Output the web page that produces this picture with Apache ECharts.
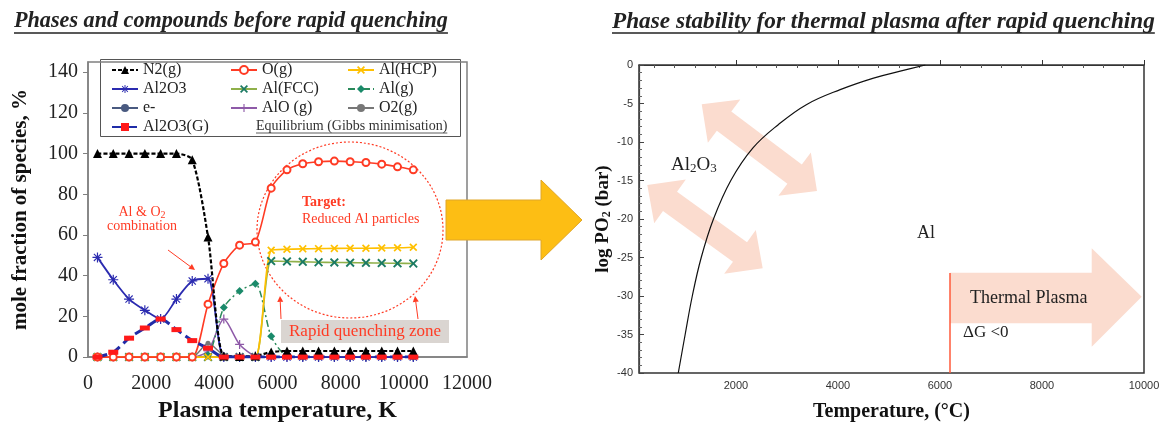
<!DOCTYPE html>
<html><head><meta charset="utf-8">
<script src="https://cdn.jsdelivr.net/npm/echarts@6/dist/echarts.min.js"></script>
<style>html,body{margin:0;padding:0;background:#fff}#c{width:1167px;height:428px}</style>
</head><body><div id="c"></div>
<script>
// ---------- DATA (left chart: equilibrium composition) ----------
const temps   = [300,800,1300,1800,2300,2800,3300,3800,4300,4800,5300,5800,6300,6800,7300,7800,8300,8800,9300,9800,10300];
const n2g     = [100,100,100,100,100,100,97,59,0.5,0.3,0.5,2.5,3,3,3,3,3,3,3,3,3];
const og      = [0,0,0,0,0,0,0,26,46,55,56.5,83,92,95,96,96.3,96,95.6,94.8,93.5,92];
const alHCP   = [0,0,0,0,0,0,0,0,0,0,0,52.5,53,53.2,53.3,53.4,53.5,53.5,53.6,53.7,54];
const al2o3   = [49,38,28.5,23,18.7,28.5,37.4,38.5,0,0,0,0,0,0,0,0,0,0,0,0,0];
const alFCC   = [0,0,0,0,0,0,0,0,0,0,0,47.2,47,46.8,46.6,46.5,46.4,46.3,46.2,46.1,46];
const alg     = [0,0,0,0,0,0,0,1,24.4,32.5,36,10.2,0.5,0,0,0,0,0,0,0,0];
const elec    = [0,0,0,0,0,0,0,0,0,0,0,0,0,0,0,0,0,0,0,0,0];
const alog    = [0,0,0,0,0,0,0,3,18.7,6.2,0.5,0,0,0,0,0,0,0,0,0,0];
const o2g     = [0,0,0,0,0,0,0,6.8,1,0.2,0,0,0,0,0,0,0,0,0,0,0];
const al2o3G  = [0,2.4,9.3,14.3,18.7,13.5,8.1,4.4,0,0,0,0,0,0,0,0,0,0,0,0,0];
const leftYTicks = [0,20,40,60,80,100,120,140];
const leftXTicks = [0,2000,4000,6000,8000,10000,12000];

// ---------- DATA (right chart: phase stability) ----------
const curveT      = [870,1005,1145,1320,1560,1900,2330,2830,3380,4044,4698,5222,5712];
const curveLogPO2 = [-40,-35,-30,-25,-20,-15,-10.8,-7.75,-5.15,-3.2,-1.7,-0.8,0];
const rightXTicks = [2000,4000,6000,8000,10000];
const rightXMinor = [400,800,1200,1600,2400,2800,3200,3600,4400,4800,5200,5600,6400,6800,7200,7600,8400,8800,9200,9600];
const plasmaT = 6200;

const SERIF = '"Liberation Serif", "Times New Roman", serif';
const SANS = '"Liberation Sans", Arial, sans-serif';
const RED = '#ff3b24';

const pair = arr => temps.map((t,i)=>[t, arr[i]]);
const SYM_X = 'path://M0,1.5L1.5,0L5,3.5L8.5,0L10,1.5L6.5,5L10,8.5L8.5,10L5,6.5L1.5,10L0,8.5L3.5,5Z';
const SYM_PLUS = 'path://M4.3,0h1.4v4.3h4.3v1.4h-4.3v4.3h-1.4v-4.3h-4.3v-1.4h4.3z';
const SYM_AST = 'path://M4.4,0h1.2v3.6l2.6,-2.6l0.8,0.8l-2.6,2.6h3.6v1.2h-3.6l2.6,2.6l-0.8,0.8l-2.6,-2.6v3.6h-1.2v-3.6l-2.6,2.6l-0.8,-0.8l2.6,-2.6h-3.6v-1.2h3.6l-2.6,-2.6l0.8,-0.8l2.6,2.6z';

function ls(name, data, o){
  return Object.assign({
    name, type:'line', xAxisIndex:0, yAxisIndex:0, data: pair(data),
    smooth:0.25, showSymbol:true, animation:false,
    emphasis:{disabled:true}
  }, o);
}

const series = [
  ls('e-', elec, {symbol:'circle', symbolSize:5, lineStyle:{color:'#4a5a80',width:1.5}, itemStyle:{color:'#4a5a80'}}),
  ls('O2(g)', o2g, {symbol:'circle', symbolSize:5, lineStyle:{color:'#777',width:1.5}, itemStyle:{color:'#777'}}),
  ls('AlO (g)', alog, {symbol:SYM_PLUS, symbolSize:9, lineStyle:{color:'#8e5aa8',width:1.5}, itemStyle:{color:'#8e5aa8'}}),
  ls('Al(g)', alg, {symbol:'diamond', symbolSize:8, lineStyle:{color:'#2a8a5a',width:1.5,type:[7,3,2,3]}, itemStyle:{color:'#1a8a6a'}}),
  ls('Al(FCC)', alFCC, {symbol:SYM_X, symbolSize:9, lineStyle:{color:'#8fb04a',width:1.6}, itemStyle:{color:'#1b7a62'}}),
  ls('Al(HCP)', alHCP, {symbol:SYM_X, symbolSize:8, lineStyle:{color:'#ffc000',width:1.6}, itemStyle:{color:'#ffc000'}}),
  ls('Al2O3', al2o3, {symbol:SYM_AST, symbolSize:10, lineStyle:{color:'#2b2bb0',width:1.8}, itemStyle:{color:'#2b2bb0'}}),
  ls('O(g)', og, {symbol:'emptyCircle', symbolSize:7, lineStyle:{color:RED,width:1.6}, itemStyle:{color:RED, borderWidth:1.2}}),
  ls('N2(g)', n2g, {symbol:'triangle', symbolSize:9, lineStyle:{color:'#000',width:2.2,type:[4,2]}, itemStyle:{color:'#000'}}),
  ls('Al2O3(G)', al2o3G, {symbol:'rect', symbolSize:[10,5], lineStyle:{color:'#1f2ca8',width:3,type:[10,5]}, itemStyle:{color:'#ff1a1a'}}),
  {
    name:'curve', type:'line', xAxisIndex:1, yAxisIndex:1, smooth:0.4, showSymbol:false, animation:false,
    data: curveT.map((t,i)=>[t, curveLogPO2[i]]),
    lineStyle:{color:'#111', width:1.2}, emphasis:{disabled:true}, z:5,
    markLine:{silent:true, symbol:['none','none'], animation:false, label:{show:false},
      lineStyle:{color:'#ff5a3a', width:1.5, type:'solid'},
      data:[[{coord:[plasmaT,-27]},{coord:[plasmaT,-40]}]]}
  }
];

const legendCommon = {orient:'vertical', top:62, itemWidth:26, itemHeight:10, itemGap:3, padding:0,
  selectedMode:false, textStyle:{fontFamily:SERIF, fontSize:16, color:'#222'}};

// text measurement for titles / underlines
const mctx = document.createElement('canvas').getContext('2d');
function tw(t, font){ mctx.font = font; return mctx.measureText(t).width; }
const title1 = 'Phases and compounds before rapid quenching';
const title2 = 'Phase stability for thermal plasma after rapid quenching';
const fs1 = 20 * 434 / tw(title1, 'italic bold 20px "Liberation Serif"');
const fs2 = 20 * 543 / tw(title2, 'italic bold 20px "Liberation Serif"');
const TF1 = 'italic bold ' + fs1.toFixed(2) + 'px "Liberation Serif"';
const TF2 = 'italic bold ' + fs2.toFixed(2) + 'px "Liberation Serif"';
const w1 = tw(title1, TF1), w2 = tw(title2, TF2);

function dblArrow(x1,y1,x2,y2,sw,hl,hw){
  const dx=x2-x1, dy=y2-y1, L=Math.hypot(dx,dy), ux=dx/L, uy=dy/L, px=-uy, py=ux;
  const P=(t,s)=>[x1+ux*t+px*s, y1+uy*t+py*s];
  return [P(0,0),P(hl,hw),P(hl,sw),P(L-hl,sw),P(L-hl,hw),P(L,0),P(L-hl,-hw),P(L-hl,-sw),P(hl,-sw),P(hl,-hw)];
}
function arrowLine(x1,y1,x2,y2,color){
  const dx=x2-x1, dy=y2-y1, L=Math.hypot(dx,dy), ux=dx/L, uy=dy/L, px=-uy, py=ux;
  const hl=6, hw=3;
  return [
    {type:'line', shape:{x1,y1,x2:x2-ux*hl,y2:y2-uy*hl}, style:{stroke:color, lineWidth:1}},
    {type:'polygon', shape:{points:[[x2,y2],[x2-ux*hl+px*hw,y2-uy*hl+py*hw],[x2-ux*hl-px*hw,y2-uy*hl-py*hw]]}, style:{fill:color}}
  ];
}
const PINK = '#fbdccf';
const EQ = 'Equilibrium (Gibbs minimisation)';

const graphic = [
  // titles
  {type:'text', left:14, top:10, style:{text:title1, font:TF1, fill:'#222'}},
  {type:'line', shape:{x1:14,y1:33,x2:14+w1,y2:33}, style:{stroke:'#222', lineWidth:1.3}},
  {type:'text', left:612, top:10, style:{text:title2, font:TF2, fill:'#222'}},
  {type:'line', shape:{x1:612,y1:33,x2:612+w2,y2:33}, style:{stroke:'#222', lineWidth:1.3}},
  // legend box
  {type:'rect', shape:{x:100.5,y:59.5,width:360,height:77}, style:{fill:'#fff', stroke:'#555', lineWidth:1}, z:-1},
  {type:'text', left:256, top:119, style:{text:EQ, font:'14px "Liberation Serif"', fill:'#333'}},
  {type:'line', shape:{x1:256,y1:133,x2:256+tw(EQ,'14px "Liberation Serif"'),y2:133}, style:{stroke:'#333', lineWidth:0.8}},
  // left annotations
  {type:'text', x:142, y:212, style:{text:'Al & O{s|2}', rich:{s:{fontSize:10, fontFamily:SERIF, fill:RED, verticalAlign:'bottom', padding:[6,0,0,0]}}, font:'14px "Liberation Serif"', fill:RED, align:'center', verticalAlign:'middle'}},
  {type:'text', x:142, y:226, style:{text:'combination', font:'14px "Liberation Serif"', fill:RED, align:'center', verticalAlign:'middle'}},
  ...arrowLine(168,250,195,270,RED),
  {type:'ellipse', shape:{cx:350, cy:230, rx:93, ry:88}, style:{fill:'none', stroke:RED, lineWidth:1.2, lineDash:[2,2]}},
  {type:'text', x:302, y:202, style:{text:'Target:', font:'bold 14px "Liberation Serif"', fill:RED, verticalAlign:'middle'}},
  {type:'text', x:302, y:219, style:{text:'Reduced Al particles', font:'14px "Liberation Serif"', fill:RED, verticalAlign:'middle'}},
  {type:'rect', shape:{x:281,y:320,width:168,height:23}, style:{fill:'#dad5d1'}},
  {type:'text', x:289, y:332, style:{text:'Rapid quenching zone', font:'17px "Liberation Serif"', fill:RED, verticalAlign:'middle'}},
  ...arrowLine(418,319,415,296,RED),
  ...arrowLine(281,319,280,296,RED),
  // big yellow arrow
  {type:'polygon', shape:{points:[[446,200],[541,200],[541,180],[582,220],[541,260],[541,240],[446,240]]}, style:{fill:'#fdbe14', stroke:'#e0a628', lineWidth:1}, z:10},
  // right chart pink arrows
  {type:'polygon', shape:{points:dblArrow(701.7,104.3,817,191,12,28,27)}, style:{fill:PINK}},
  {type:'polygon', shape:{points:dblArrow(647.3,185,762.7,268.3,12,28,27)}, style:{fill:PINK}},
  {type:'polygon', shape:{points:[[950,272.7],[1091.7,272.7],[1091.7,248.3],[1141.7,296.7],[1091.7,346.7],[1091.7,323.3],[950,323.3]]}, style:{fill:PINK}},
  {type:'text', x:671, y:165, style:{text:'Al{s|2}O{s|3}', rich:{s:{fontSize:13, fontFamily:SERIF, fill:'#222', verticalAlign:'bottom', padding:[8,0,0,0]}}, font:'19px "Liberation Serif"', fill:'#222', verticalAlign:'middle'}, z:10},
  {type:'text', x:917, y:233, style:{text:'Al', font:'18px "Liberation Serif"', fill:'#222', verticalAlign:'middle'}, z:10},
  {type:'text', x:970, y:298, style:{text:'Thermal Plasma', font:'18px "Liberation Serif"', fill:'#222', verticalAlign:'middle'}, z:10},
  {type:'text', x:963, y:333, style:{text:'\u0394G <0', font:'17px "Liberation Serif"', fill:'#222', verticalAlign:'middle'}, z:10}
];

const plain = v => String(v);

const option = {
  backgroundColor:'#fff',
  animation:false,
  grid:[
    {left:88, right:700, top:62, bottom:66, show:true, borderColor:'#808080', borderWidth:1.5, backgroundColor:'transparent'},
    {left:639, right:23, top:65, bottom:55, show:true, borderColor:'#333', borderWidth:1.5}
  ],
  xAxis:[
    {type:'value', gridIndex:0, min:0, max:12000,
     name:'Plasma temperature, K', nameLocation:'middle', nameGap:35,
     nameTextStyle:{fontFamily:SERIF, fontWeight:'bold', fontSize:24, color:'#111'},
     axisLine:{lineStyle:{color:'#808080', width:1.5}}, axisTick:{show:false}, splitLine:{show:false},
     axisLabel:{customValues:leftXTicks, formatter:plain, fontFamily:SERIF, fontSize:20, color:'#222', margin:17}},
    {type:'value', gridIndex:1, min:100, max:10000,
     name:'Temperature, (\u00B0C)', nameLocation:'middle', nameGap:29,
     nameTextStyle:{fontFamily:SERIF, fontWeight:'bold', fontSize:20, color:'#111'},
     axisLine:{lineStyle:{color:'#333', width:1.2}},
     axisTick:{customValues:rightXTicks, inside:true, length:5, lineStyle:{color:'#333'}},
     splitLine:{show:false},
     axisLabel:{customValues:rightXTicks, formatter:plain, fontFamily:SANS, fontSize:11, color:'#333', margin:7}},
    {type:'value', gridIndex:1, min:100, max:10000, axisLine:{show:false},
     axisTick:{customValues:rightXMinor, inside:true, length:3, lineStyle:{color:'#555'}},
     axisLabel:{show:false}, splitLine:{show:false}}
  ],
  yAxis:[
    {type:'value', gridIndex:0, min:0, max:145,
     name:'mole fraction of species, %', nameLocation:'middle', nameGap:57,
     nameTextStyle:{fontFamily:SERIF, fontWeight:'bold', fontSize:21, color:'#111'},
     axisLine:{show:true, lineStyle:{color:'#808080', width:1.5}},
     axisTick:{show:true, customValues:leftYTicks, length:5, lineStyle:{color:'#808080'}},
     splitLine:{show:false},
     axisLabel:{customValues:leftYTicks, formatter:plain, fontFamily:SERIF, fontSize:20, color:'#222', margin:10}},
    {type:'value', gridIndex:1, min:-40, max:0, interval:5,
     name:'log PO{s|2} (bar)', nameLocation:'middle', nameGap:21,
     nameTextStyle:{fontFamily:SERIF, fontWeight:'bold', fontSize:19, color:'#111',
       rich:{s:{fontFamily:SERIF, fontWeight:'bold', fontSize:12, color:'#111', verticalAlign:'bottom', padding:[8,0,0,0]}}},
     axisLine:{show:true, lineStyle:{color:'#444', width:1.2}},
     axisTick:{show:true, inside:true, length:5, lineStyle:{color:'#444'}},
     minorTick:{show:true, splitNumber:5, length:3, lineStyle:{color:'#666'}},
     splitLine:{show:false},
     axisLabel:{fontFamily:SANS, fontSize:11, color:'#333', margin:6}}
  ],
  legend:[
    Object.assign({left:111, data:['N2(g)','Al2O3','e-','Al2O3(G)']}, legendCommon),
    Object.assign({left:230, data:['O(g)','Al(FCC)','AlO (g)']}, legendCommon),
    Object.assign({left:347, data:['Al(HCP)','Al(g)','O2(g)']}, legendCommon)
  ],
  series,
  graphic
};
const chart = echarts.init(document.getElementById('c'), null, {renderer:'canvas'});
chart.setOption(option);
</script>
</body></html>
